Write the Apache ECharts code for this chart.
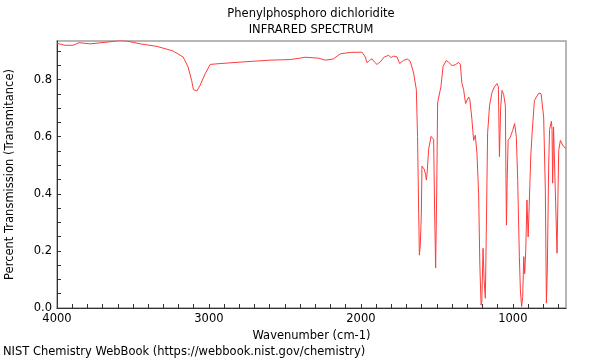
<!DOCTYPE html>
<html>
<head>
<meta charset="utf-8">
<script src="https://cdn.jsdelivr.net/npm/echarts@6/dist/echarts.min.js"></script>
<style>html,body{margin:0;padding:0;background:#fff}#c{width:600px;height:360px}</style>
</head>
<body>
<div id="c"></div>
<script>
const titleLines = ["Phenylphosphoro dichloridite", "INFRARED SPECTRUM"];
const xAxisTitle = "Wavenumber (cm-1)";
const yAxisTitle = "Percent Transmission (Transmitance)";
const footer = "NIST Chemistry WebBook (https://webbook.nist.gov/chemistry)";

const xTickLabels = [1000, 2000, 3000, 4000];
const yTickLabels = [0, 0.2, 0.4, 0.6, 0.8];

const wavenumbers = [
  4000, 3947, 3895, 3855, 3783, 3671, 3585, 3539, 3453, 3341, 3236, 3170, 3137, 3114, 3102, 3080, 3058, 3025, 2992, 2926,
  2795, 2597, 2465, 2400, 2367, 2281, 2235, 2182, 2136, 2070, 1993, 1971, 1960, 1943, 1927, 1912, 1894, 1872, 1846, 1818,
  1802, 1785, 1762, 1745, 1719, 1695, 1675, 1653, 1635, 1627, 1620, 1615, 1609, 1602, 1598, 1591, 1583, 1574, 1569, 1563,
  1554, 1538, 1525, 1521, 1515, 1508, 1501, 1495, 1482, 1473, 1459, 1438, 1422, 1400, 1378, 1357, 1345, 1336, 1324, 1311,
  1291, 1283, 1270, 1258, 1247, 1236, 1225, 1217, 1209, 1204, 1196, 1189, 1181, 1175, 1166, 1153, 1137, 1122, 1104, 1095,
  1088, 1080, 1071, 1060, 1049, 1045, 1042, 1037, 1031, 1016, 1001, 988, 977, 968, 957, 950, 942, 935, 928, 922,
  915, 907, 899, 891, 882, 873, 858, 845, 828, 814, 797, 786, 779, 773, 764, 758, 746, 742, 738, 732,
  720, 709, 698, 687, 672, 651
];
const transmittance = [
  0.927, 0.920, 0.920, 0.929, 0.925, 0.931, 0.937, 0.935, 0.925, 0.916, 0.900, 0.879, 0.844, 0.797, 0.765, 0.760, 0.780, 0.820, 0.853, 0.856,
  0.861, 0.868, 0.870, 0.875, 0.878, 0.875, 0.868, 0.872, 0.890, 0.895, 0.896, 0.879, 0.859, 0.867, 0.873, 0.862, 0.853, 0.862, 0.879, 0.885,
  0.877, 0.882, 0.879, 0.856, 0.867, 0.872, 0.864, 0.823, 0.765, 0.601, 0.350, 0.185, 0.220, 0.330, 0.497, 0.502, 0.486, 0.467, 0.448, 0.480,
  0.556, 0.601, 0.607, 0.590, 0.350, 0.140, 0.400, 0.718, 0.722, 0.776, 0.846, 0.867, 0.860, 0.849, 0.852, 0.860, 0.852, 0.790, 0.765, 0.716,
  0.739, 0.730, 0.665, 0.587, 0.605, 0.541, 0.400, 0.150, 0.010, 0.020, 0.209, 0.100, 0.034, 0.250, 0.612, 0.710, 0.755, 0.774, 0.786, 0.775,
  0.530, 0.700, 0.762, 0.747, 0.708, 0.450, 0.290, 0.450, 0.587, 0.599, 0.622, 0.646, 0.600, 0.450, 0.180, 0.060, 0.005, 0.040, 0.180, 0.120,
  0.200, 0.378, 0.249, 0.378, 0.529, 0.612, 0.727, 0.722, 0.753, 0.750, 0.669, 0.413, 0.017, 0.133, 0.500, 0.625, 0.654, 0.626, 0.437, 0.634,
  0.640, 0.192, 0.552, 0.587, 0.570, 0.558
];

const xMinorTicks = [];
for (let v = 700; v <= 4000; v += 100) xMinorTicks.push(v);
const yMinorTicks = [];
for (let i = 0; i <= 18; i++) yMinorTicks.push(+(i * 0.05).toFixed(2));

const font = "DejaVu Sans";
const fs = 11.5;
const chart = echarts.init(document.getElementById('c'), null, {renderer: 'canvas'});
chart.setOption({
  animation: false,
  backgroundColor: '#fff',
  grid: {left: 57, right: 34, top: 41, bottom: 52, outerBoundsMode: 'none', containLabel: false,
         show: true, borderColor: '#a0a0a0', borderWidth: 1.5, backgroundColor: 'transparent'},
  graphic: [
    {type: 'text', style: {x: 311, y: 14, text: titleLines[0], font: fs + 'px "DejaVu Sans"', fill: '#000', align: 'center', verticalAlign: 'middle'}},
    {type: 'text', style: {x: 311, y: 30, text: titleLines[1], font: fs + 'px "DejaVu Sans"', fill: '#000', align: 'center', verticalAlign: 'middle'}},
    {type: 'text', style: {x: 3, y: 352, text: footer, font: fs + 'px "DejaVu Sans"', fill: '#000', align: 'left', verticalAlign: 'middle'}}
  ],
  xAxis: {
    type: 'value', min: 650, max: 4000, inverse: true,
    name: xAxisTitle, nameLocation: 'middle', nameGap: 17,
    nameTextStyle: {fontFamily: font, fontSize: fs, color: '#000'},
    axisLine: {show: true, lineStyle: {color: '#333', width: 1}},
    axisTick: {show: true, inside: true, length: 4, customValues: xMinorTicks, lineStyle: {color: '#333'}},
    axisLabel: {customValues: xTickLabels, margin: 5, fontFamily: font, fontSize: fs, color: '#000', formatter: v => String(v)},
    splitLine: {show: false}
  },
  yAxis: {
    type: 'value', min: 0, max: 0.935,
    name: yAxisTitle, nameLocation: 'middle', nameGap: 41,
    nameTextStyle: {fontFamily: font, fontSize: fs, color: '#000'},
    axisLine: {show: true, lineStyle: {color: '#333', width: 1}},
    axisTick: {show: true, inside: true, length: 4, customValues: yMinorTicks, lineStyle: {color: '#333'}},
    axisLabel: {customValues: yTickLabels, margin: 5, fontFamily: font, fontSize: fs, color: '#000', formatter: v => v.toFixed(1)},
    splitLine: {show: false}
  },
  series: [{
    type: 'line', showSymbol: false, smooth: false,
    data: wavenumbers.map((w, i) => [w, transmittance[i]]),
    lineStyle: {color: '#ff3b3b', width: 1},
    clip: true
  }]
});
</script>
</body>
</html>
